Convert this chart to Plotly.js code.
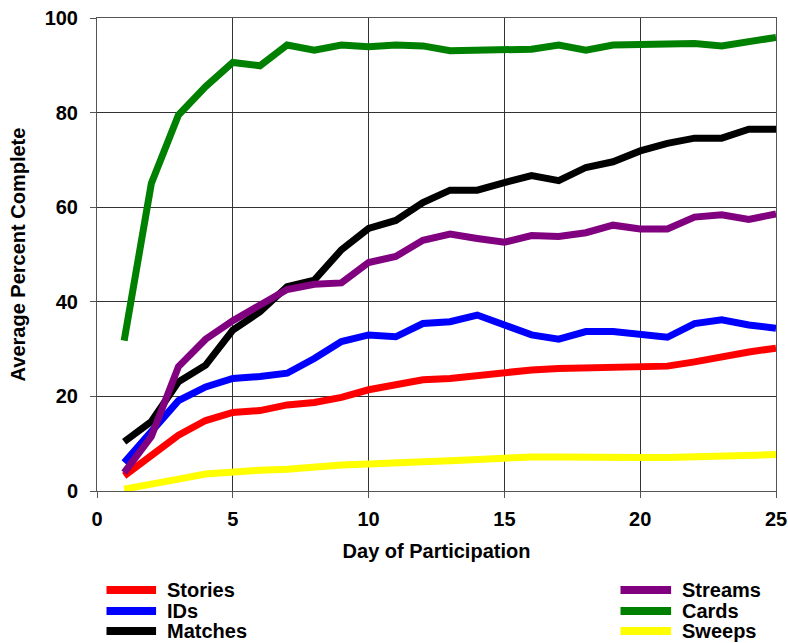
<!DOCTYPE html>
<html>
<head>
<meta charset="utf-8">
<script src="https://cdn.plot.ly/plotly-3.0.1.min.js"></script>
<style>html,body{margin:0;padding:0;background:#fff;}#chart{width:788px;height:643px;}</style>
</head>
<body>
<div id="chart"></div>
<script>
var days = [1,2,3,4,5,6,7,8,9,10,11,12,13,14,15,16,17,18,19,20,21,22,23,24,25];
var stories = [3.2,7.3,11.8,14.9,16.6,17.0,18.2,18.7,19.8,21.4,22.6,23.5,23.8,24.5,24.9,25.6,25.9,26.1,26.3,26.2,26.4,27.3,28.5,29.4,30.2];
var ids = [6.0,12.5,19.1,22.0,23.8,24.2,24.9,28.0,31.6,33.0,32.6,35.4,35.8,37.2,35.1,33.0,32.1,33.7,33.7,33.0,32.5,35.4,36.2,35.1,34.4];
var matches = [10.4,14.7,23.1,26.6,34.0,37.9,43.2,44.6,51.0,55.5,57.2,61.0,63.6,63.6,65.2,66.7,65.6,68.4,69.6,71.9,73.5,74.6,74.6,76.5,76.5];
var streams = [3.9,11.5,26.3,32.1,36.0,39.1,42.6,43.7,44.0,48.3,49.6,53.0,54.3,53.4,52.6,54.0,53.8,54.6,56.2,55.4,55.4,57.9,58.4,57.4,58.6];
var cards = [31.8,65.0,79.5,85.5,90.6,89.9,94.3,93.2,94.3,93.9,94.3,94.1,93.1,93.2,93.6,93.4,94.3,93.2,94.3,94.4,94.4,94.6,94.1,95.0,95.9];
var sweeps = [0.4,1.6,2.5,3.6,4.1,4.4,4.6,5.1,5.5,5.7,5.8,6.2,6.4,6.7,7.1,7.2,7.2,7.1,6.9,7.1,7.1,7.2,7.6,7.7,7.7];

var seriesNames = ["Stories","IDs","Matches","Streams","Cards","Sweeps"];
var seriesValues = [stories, ids, matches, streams, cards, sweeps];
var seriesColors = ["#ff0000","#0000ff","#000000","#800080","#008000","#ffff00"];
var xTickVals = [0,5,10,15,20,25];
var yTickVals = [0,20,40,60,80,100];

var fontFam = "Liberation Sans, Arial, Helvetica, sans-serif";

var traces = seriesNames.map(function(n, i){
  return {
    x: days, y: seriesValues[i], type: "scatter", mode: "lines", name: n,
    line: {color: seriesColors[i], width: 7, shape: "linear"},
    showlegend: false, hoverinfo: "skip"
  };
});

// manual legend (two columns of three)
var shapes = [], annotations = [];
var rowY = [-0.2093, -0.2537, -0.2960];
var cols = [{x0: 0.0140, x1: 0.0870, tx: 0.1000}, {x0: 0.7710, x1: 0.8455, tx: 0.8585}];
seriesNames.forEach(function(n, i){
  var c = cols[Math.floor(i/3)], r = rowY[i%3];
  shapes.push({type: "line", xref: "paper", yref: "paper", x0: c.x0, x1: c.x1, y0: r, y1: r,
    line: {color: seriesColors[i], width: 8}});
  annotations.push({xref: "paper", yref: "paper", x: c.tx, y: r, xanchor: "left", yanchor: "middle",
    text: n, showarrow: false, font: {family: fontFam, size: 20, color: "#000", weight: "bold"}});
});

var layout = {
  width: 788, height: 643,
  margin: {l: 97, r: 12, t: 18, b: 152},
  paper_bgcolor: "#fff", plot_bgcolor: "#fff",
  showlegend: false,
  xaxis: {
    range: [0, 25], tickvals: xTickVals, ticktext: xTickVals.map(String),
    showgrid: true, gridcolor: "#333", gridwidth: 1, zeroline: false,
    showline: true, linecolor: "#555", linewidth: 1, mirror: true,
    ticks: "outside", ticklen: 6, tickcolor: "#555", ticklabelstandoff: 4,
    tickfont: {family: fontFam, size: 20, color: "#000", weight: "bold"},
    title: {text: "Day of Participation", standoff: 14, font: {family: fontFam, size: 20, color: "#000", weight: "bold"}}
  },
  yaxis: {
    range: [0, 100], tickvals: yTickVals, ticktext: yTickVals.map(String),
    showgrid: true, gridcolor: "#333", gridwidth: 1, zeroline: false,
    showline: true, linecolor: "#555", linewidth: 1, mirror: true,
    ticks: "outside", ticklen: 6, tickcolor: "#555", ticklabelstandoff: 8,
    tickfont: {family: fontFam, size: 20, color: "#000", weight: "bold"},
    title: {text: "Average Percent Complete", standoff: 13, font: {family: fontFam, size: 20, color: "#000", weight: "bold"}}
  },
  shapes: shapes,
  annotations: annotations
};

Plotly.newPlot("chart", traces, layout, {displayModeBar: false, staticPlot: true});
</script>
</body>
</html>
